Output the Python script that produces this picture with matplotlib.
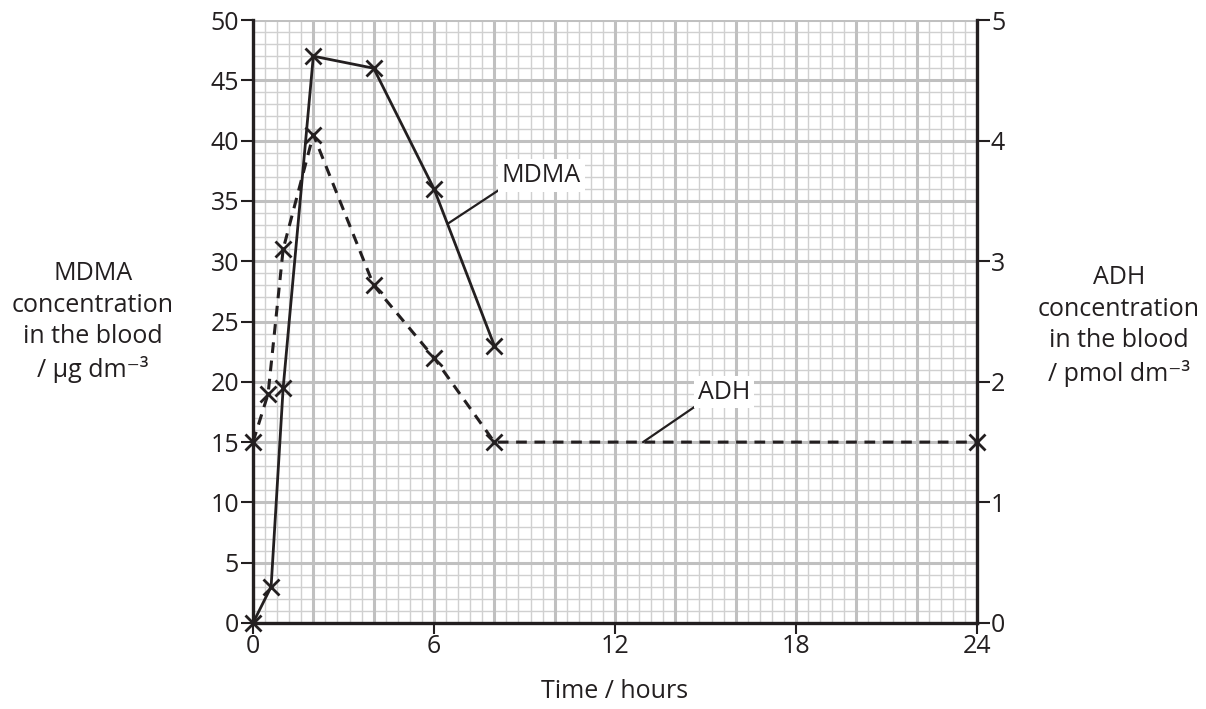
import matplotlib
matplotlib.use("Agg")
import matplotlib.pyplot as plt
import numpy as np

plt.rcParams['font.family'] = ['Open Sans', 'DejaVu Sans']

# ---- data ----
mdma_time = [0, 0.6, 1, 2, 4, 6, 8]
mdma_conc = [0, 3, 19.5, 47, 46, 36, 23]          # µg dm-3 (left axis)
adh_time = [0, 0.5, 1, 2, 4, 6, 8, 24]
adh_conc = [1.5, 1.9, 3.1, 4.05, 2.8, 2.2, 1.5, 1.5]  # pmol dm-3 (right axis)
x_ticks = [0, 6, 12, 18, 24]
left_ticks = [0, 5, 10, 15, 20, 25, 30, 35, 40, 45, 50]
right_ticks = [0, 1, 2, 3, 4, 5]

FS = 18
INK = '#231f20'
fig = plt.figure(figsize=(12.06, 7.09), dpi=100)
ax = fig.add_axes([253/1206, 1-623/709, (977-253)/1206, (623-20)/709])
ax.set_xlim(0, 24)
ax.set_ylim(0, 50)
ax2 = ax.twinx()
ax2.set_ylim(0, 5)

# graph-paper grid
minor_c = '#d0d0d0'
major_c = '#c0c0c0'
for xv in np.arange(0, 24.01, 0.4):
    ax.axvline(xv, color=minor_c, lw=1.0, zorder=0)
for yv in np.arange(0, 50.01, 1):
    ax.axhline(yv, color=minor_c, lw=1.0, zorder=0)
for xv in np.arange(0, 24.01, 2):
    ax.axvline(xv, color=major_c, lw=2.2, zorder=0.5)
for yv in np.arange(0, 50.01, 5):
    ax.axhline(yv, color=major_c, lw=2.2, zorder=0.5)

# data lines (ADH on right axis)
ax.plot(mdma_time, mdma_conc, color=INK, lw=2.0, marker='x', ms=11, mew=2.0,
        zorder=5, clip_on=False)
ax2.plot(adh_time, adh_conc, color=INK, lw=2.2, ls=(0, (3.5, 2.5)), marker='x',
         ms=11, mew=2.0, zorder=5, clip_on=False)

# spines
for s in ['left', 'bottom']:
    ax.spines[s].set_linewidth(2.4)
    ax.spines[s].set_color(INK)
ax.spines['top'].set_visible(False)
ax.spines['right'].set_visible(False)
ax2.spines['top'].set_visible(False)
ax2.spines['left'].set_visible(False)
ax2.spines['bottom'].set_visible(False)
ax2.spines['right'].set_linewidth(2.4)
ax2.spines['right'].set_color(INK)

ax.set_xticks(x_ticks)
ax.set_xticklabels([str(t) for t in x_ticks])
ax.set_yticks(left_ticks)
ax.set_yticklabels([str(t) for t in left_ticks])
ax2.set_yticks(right_ticks)
ax2.set_yticklabels([str(t) for t in right_ticks])
ax.tick_params(axis='x', length=8, width=1.5, color=INK, labelsize=FS, pad=0,
               labelcolor=INK)
ax.tick_params(axis='y', length=9, width=1.5, color=INK, labelsize=FS, pad=1,
               labelcolor=INK)
ax2.tick_params(axis='y', length=9, width=1.5, color=INK, labelsize=FS, pad=1,
                labelcolor=INK)

ax.set_axisbelow(True)

# axis labels
fig.text(93/1206, 1-322/709, "MDMA\nconcentration\nin the blood\n/ µg dm⁻³",
         ha='center', va='center', fontsize=FS, color=INK, linespacing=1.33)
fig.text(1119/1206, 1-326/709, "ADH\nconcentration\nin the blood\n/ pmol dm⁻³",
         ha='center', va='center', fontsize=FS, color=INK, linespacing=1.33)
fig.text(615/1206, 1-692/709, "Time / hours", ha='center', va='center',
         fontsize=FS, color=INK)

# line labels
ax.annotate("MDMA", xy=(6.45, 33.1), xytext=(8.25, 37.1), fontsize=FS, color=INK,
            ha='left', va='center', zorder=6,
            bbox=dict(boxstyle='square,pad=0.15', fc='white', ec='none'),
            arrowprops=dict(arrowstyle='-', color=INK, lw=1.6, relpos=(0, 0),
                            shrinkA=0, shrinkB=0))
ax.annotate("ADH", xy=(12.93, 15.0), xytext=(14.75, 19.15), fontsize=FS, color=INK,
            ha='left', va='center', zorder=6,
            bbox=dict(boxstyle='square,pad=0.15', fc='white', ec='none'),
            arrowprops=dict(arrowstyle='-', color=INK, lw=1.6, relpos=(0, 0),
                            shrinkA=0, shrinkB=0))

fig.savefig("out.png", dpi=100, facecolor='white')
